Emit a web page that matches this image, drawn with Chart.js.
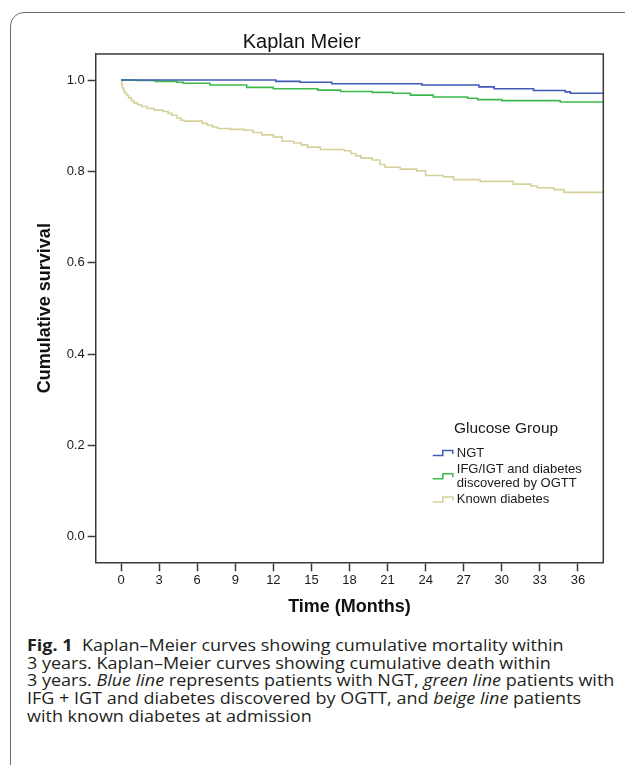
<!DOCTYPE html>
<html><head><meta charset="utf-8">
<script src="https://cdn.jsdelivr.net/npm/chart.js@4.4.1/dist/chart.umd.min.js"></script>
<style>
html,body{margin:0;padding:0;background:#fff;width:625px;height:765px;overflow:hidden;position:relative}
#frame{position:absolute;left:10px;top:12px;width:660px;height:800px;border:1.5px solid #6e6e6e;border-radius:14px;box-sizing:border-box}
#wrap{position:absolute;left:0;top:0;width:625px;height:630px}
#caption{position:absolute;left:27px;top:636px;font-family:'Open Sans',sans-serif;font-size:16.5px;line-height:17.7px;color:#231f20;white-space:nowrap;transform:scaleX(1.09);transform-origin:0 0}
</style></head><body>
<div id="frame"></div>
<div id="wrap"><canvas id="c" width="625" height="630"></canvas></div>
<div id="caption"><b>Fig. 1</b>&nbsp; Kaplan–Meier curves showing cumulative mortality within<br>3 years. Kaplan–Meier curves showing cumulative death within<br>3 years. <i>Blue line</i> represents patients with NGT, <i>green line</i> patients with<br>IFG + IGT and diabetes discovered by OGTT, and <i>beige line</i> patients<br>with known diabetes at admission</div>
<script>
// ---- data ----
const chartTitle = 'Kaplan Meier';
const xTitle = 'Time (Months)';
const yTitle = 'Cumulative survival';
const legendTitle = 'Glucose Group';
const xTicks = [0, 3, 6, 9, 12, 15, 18, 21, 24, 27, 30, 33, 36];
const xTickLabels = ['0', '3', '6', '9', '12', '15', '18', '21', '24', '27', '30', '33', '36'];
const yTicks = [0.0, 0.2, 0.4, 0.6, 0.8, 1.0];
const yTickLabels = ['0.0', '0.2', '0.4', '0.6', '0.8', '1.0'];
const seriesNames = ['NGT', 'IFG/IGT and diabetes discovered by OGTT', 'Known diabetes'];
const legendLines = [['NGT'], ['IFG/IGT and diabetes', 'discovered by OGTT'], ['Known diabetes']];

const ngtTime = [0, 12.2, 14.1, 16.6, 23.7, 28.2, 29.4, 32.5, 35.0, 35.4, 38];
const ngtSurv = [1.0, 0.997, 0.995, 0.992, 0.989, 0.985, 0.981, 0.977, 0.974, 0.971, 0.971];

const ifgTime = [0, 1.2, 2.7, 4.4, 4.9, 7.0, 9.9, 12.0, 15.5, 17.3, 19.8, 21.4, 22.8, 24.6, 27.3, 28.1, 30.0, 34.6, 38];
const ifgSurv = [1.0, 0.999, 0.997, 0.995, 0.993, 0.989, 0.984, 0.981, 0.978, 0.975, 0.973, 0.971, 0.967, 0.963, 0.960, 0.957, 0.955, 0.952, 0.952];

const knownTime = [0, 0.05, 0.1, 0.2, 0.3, 0.45, 0.6, 0.8, 1.0, 1.3, 1.6, 2.05, 2.6, 3.3, 3.7, 4.0, 4.4, 4.7, 5.0, 6.4, 6.8, 7.2, 7.6, 8.6, 9.7, 10.4, 11.1, 12.0, 12.7, 13.6, 14.2, 14.7, 15.7, 17.6, 18.1, 18.5, 18.9, 19.8, 20.4, 20.8, 22.0, 23.3, 24.0, 25.4, 26.2, 28.3, 30.9, 32.3, 32.8, 34.1, 34.9, 38];
const knownSurv = [1.0, 0.990, 0.982, 0.976, 0.971, 0.966, 0.961, 0.955, 0.950, 0.946, 0.942, 0.938, 0.934, 0.931, 0.927, 0.923, 0.917, 0.912, 0.910, 0.905, 0.901, 0.897, 0.894, 0.892, 0.890, 0.885, 0.880, 0.875, 0.866, 0.862, 0.858, 0.853, 0.848, 0.845, 0.839, 0.834, 0.829, 0.825, 0.815, 0.809, 0.805, 0.801, 0.791, 0.788, 0.782, 0.778, 0.772, 0.768, 0.764, 0.760, 0.754, 0.754];

const seriesColors = ['#3f5bb5', '#3dba4d', '#d6d19b'];

// ---- chart ----
const pts = (t, s) => t.map((v, i) => ({x: v, y: s[i]}));
const FONT = '"Liberation Sans", Arial, sans-serif';
Chart.defaults.font.family = FONT;
Chart.defaults.color = '#1a1a1a';

const framePlugin = {
  id: 'frame',
  afterDraw(chart) {
    const {ctx, chartArea: a} = chart;
    ctx.save();
    ctx.strokeStyle = '#3a3a3a';
    ctx.lineWidth = 1.5;
    ctx.beginPath();
    ctx.moveTo(a.left, a.top);
    ctx.lineTo(a.right, a.top);
    ctx.lineTo(a.right, a.bottom);
    ctx.stroke();
    ctx.restore();
  }
};

const legendPlugin = {
  id: 'kmLegend',
  afterDraw(chart) {
    const {ctx, chartArea: a} = chart;
    ctx.save();
    ctx.fillStyle = '#1a1a1a';
    ctx.textBaseline = 'middle';
    ctx.font = '15.5px ' + FONT;
    ctx.textAlign = 'center';
    ctx.fillText(legendTitle, a.right - 97.3, a.bottom - 133.3);
    ctx.font = '13px ' + FONT;
    ctx.textAlign = 'left';
    let y = a.bottom - 109.3;
    chart.data.datasets.forEach((ds, i) => {
      const lines = legendLines[i];
      const first = y;
      lines.forEach((ln, k) => {
        ctx.fillText(ln, a.right - 146.5, y);
        if (k < lines.length - 1) y += 13.5;
      });
      const cy = (first + y) / 2;
      const x0 = a.right - 170.5;
      ctx.strokeStyle = ds.borderColor;
      ctx.lineWidth = 1.5;
      ctx.beginPath();
      ctx.moveTo(x0, cy + 2.5);
      ctx.lineTo(x0 + 10, cy + 2.5);
      ctx.lineTo(x0 + 10, cy - 2.5);
      ctx.lineTo(x0 + 20, cy - 2.5);
      ctx.lineTo(x0 + 20, cy + 1);
      ctx.stroke();
      y += 16.5;
    });
    ctx.restore();
  }
};

new Chart(document.getElementById('c'), {
  type: 'line',
  data: {
    datasets: [
      {label: seriesNames[0], data: pts(ngtTime, ngtSurv), borderColor: seriesColors[0]},
      {label: seriesNames[1], data: pts(ifgTime, ifgSurv), borderColor: seriesColors[1]},
      {label: seriesNames[2], data: pts(knownTime, knownSurv), borderColor: seriesColors[2]}
    ].map(d => Object.assign(d, {stepped: 'before', borderWidth: 1.6, pointRadius: 0, fill: false}))
  },
  options: {
    responsive: false,
    animation: false,
    devicePixelRatio: 1,
    layout: {padding: {left: 0, right: 21.7, top: 0, bottom: 0}},
    plugins: {
      legend: {display: false},
      tooltip: {enabled: false},
      title: {
        display: true, text: chartTitle, color: '#111',
        font: {size: 20, weight: 'normal', family: FONT},
        padding: {top: 30, bottom: 0}
      }
    },
    scales: {
      x: {
        type: 'linear', min: -2, max: 38,
        afterBuildTicks: s => { s.ticks = xTicks.map(v => ({value: v})); },
        afterFit: s => { s.height = 67.7; },
        ticks: {
          font: {size: 13}, color: '#1a1a1a', padding: 1, maxRotation: 0, autoSkip: false,
          callback: (v) => xTickLabels[xTicks.indexOf(v)]
        },
        grid: {drawOnChartArea: false, drawTicks: true, tickLength: 9, tickColor: '#3a3a3a', tickWidth: 1.5},
        border: {display: true, color: '#3a3a3a', width: 1.5},
        title: {display: true, text: xTitle, color: '#111', font: {size: 18, weight: 'bold'}, padding: {top: 0, bottom: 12.2}}
      },
      y: {
        type: 'linear', min: -0.056, max: 1.057,
        afterBuildTicks: s => { s.ticks = yTicks.map(v => ({value: v})); },
        afterFit: s => { s.width = 95.7; },
        ticks: {
          font: {size: 13}, color: '#1a1a1a', padding: 3,
          callback: (v) => yTickLabels[yTicks.indexOf(v)]
        },
        grid: {drawOnChartArea: false, drawTicks: true, tickLength: 8, tickColor: '#3a3a3a', tickWidth: 1.5},
        border: {display: true, color: '#3a3a3a', width: 1.5},
        title: {display: true, text: yTitle, color: '#111', font: {size: 18, weight: 'bold'}, padding: {top: 34.2, bottom: 0}}
      }
    }
  },
  plugins: [framePlugin, legendPlugin]
});
</script>
</body></html>
